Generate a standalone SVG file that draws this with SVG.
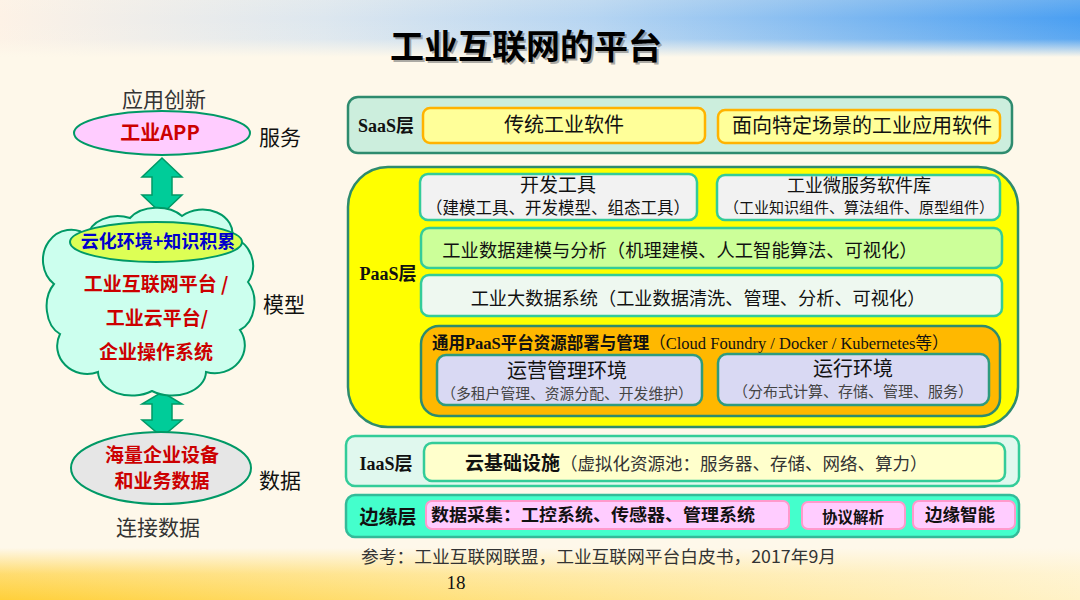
<svg xmlns="http://www.w3.org/2000/svg" width="1080" height="600" viewBox="0 0 1080 600">
<defs>
<linearGradient id="topH" x1="0" y1="0" x2="1" y2="0">
<stop offset="0" stop-color="#FDF2E6"/>
<stop offset="0.3" stop-color="#DDE7EF"/>
<stop offset="0.55" stop-color="#B6D5F2"/>
<stop offset="0.8" stop-color="#79B6F1"/>
<stop offset="1" stop-color="#4A9FF2"/>
</linearGradient>
<linearGradient id="topV" x1="0" y1="0" x2="0" y2="1">
<stop offset="0" stop-color="#FEF8EA" stop-opacity="0.15"/>
<stop offset="0.3" stop-color="#FEF8EA" stop-opacity="0"/>
<stop offset="0.65" stop-color="#FEF8EA" stop-opacity="0.1"/>
<stop offset="0.95" stop-color="#FEF8EA" stop-opacity="1"/>
</linearGradient>
<linearGradient id="botH" x1="0" y1="0" x2="1" y2="0">
<stop offset="0" stop-color="#FFD03A"/>
<stop offset="0.4" stop-color="#FFE07A"/>
<stop offset="1" stop-color="#FFF2C8"/>
</linearGradient>
<linearGradient id="botV" x1="0" y1="0" x2="0" y2="1">
<stop offset="0" stop-color="#FEF8EA" stop-opacity="1"/>
<stop offset="0.5" stop-color="#FEF8EA" stop-opacity="0.3"/>
<stop offset="1" stop-color="#FEF8EA" stop-opacity="0"/>
</linearGradient>
</defs>
<style>
.cjk{font-family:"Noto Sans CJK SC","Noto Sans",sans-serif;}
.ser{font-family:"Liberation Serif","Noto Sans CJK SC",serif;}
.b{font-weight:bold;}
.mid{text-anchor:middle;}
.red{fill:#CC0000;}
.ink{fill:#111111;}
.grey{fill:#333333;}
.sub{fill:#444444;}
.arrow{fill:#00CC99;stroke:#009966;stroke-width:1.5;}
.teal{stroke:#009966;stroke-width:2;}
.panel{stroke:#2E8B6E;stroke-width:2.5;}
.inbox{stroke:#33CC99;stroke-width:2.5;}
</style>

<!-- background -->
<rect x="0" y="0" width="1080" height="600" fill="#FEF8EA"/>
<rect x="0" y="0" width="1080" height="60" fill="url(#topH)"/>
<rect x="0" y="0" width="1080" height="60" fill="url(#topV)"/>
<rect x="0" y="548" width="1080" height="52" fill="url(#botH)"/>
<rect x="0" y="548" width="1080" height="52" fill="url(#botV)"/>

<!-- title -->
<text x="526" y="59" class="cjk b mid" font-size="34" fill="#777" opacity="0.6" transform="translate(2,2)">工业互联网的平台</text>
<text x="526" y="59" class="cjk b mid" font-size="34" fill="#000">工业互联网的平台</text>

<!-- connectors -->
<g id="connectors">
<path class="arrow" d="M162 158 L182 177 L172 177 L172 195 L182 195 L162 214 L142 195 L152 195 L152 177 L142 177 Z"/>
<path class="arrow" d="M162 392 L182 404 L172 404 L172 420 L182 420 L162 437 L142 420 L152 420 L152 404 L142 404 Z"/>
</g>

<!-- left column -->
<g id="label-app-innovation"><text x="164" y="107" class="cjk mid grey" font-size="21">应用创新</text></g>
<g id="node-app">
<ellipse cx="162" cy="133" rx="88" ry="22" fill="#FFCCFF" class="teal"/>
<text x="160" y="140" class="cjk b mid red" font-size="20">工业APP</text>
</g>
<g id="label-service"><text x="280" y="145" class="cjk mid ink" font-size="21">服务</text></g>

<g id="node-cloud">
<path d="M88 236 A30 22 0 0 1 130 218 A32 22 0 0 1 182 216 A30 24 0 0 1 232 238 A26 28 0 0 1 248 282 A24 30 0 0 1 240 330 A30 28 0 0 1 206 372 A34 24 0 0 1 152 391 A34 24 0 0 1 98 372 A30 28 0 0 1 60 334 A22 30 0 0 1 54 284 A26 28 0 0 1 88 236 Z" fill="#CCFFEE" class="teal"/>
<ellipse cx="156" cy="242" rx="86" ry="20" fill="#DDFF55" class="teal"/>
<text x="158" y="248" class="cjk b mid" font-size="18" fill="#0000CC">云化环境+知识积累</text>
<text x="156" y="291" class="cjk b mid red" font-size="19">工业互联网平台 /</text>
<text x="157" y="325" class="cjk b mid red" font-size="19">工业云平台/</text>
<text x="156" y="359" class="cjk b mid red" font-size="19">企业操作系统</text>
</g>
<g id="label-model"><text x="284" y="312" class="cjk mid ink" font-size="21">模型</text></g>

<g id="node-data">
<ellipse cx="161" cy="468" rx="90" ry="36" fill="#E6E6E6" class="teal"/>
<text x="162" y="462" class="cjk b mid red" font-size="19">海量企业设备</text>
<text x="162" y="488" class="cjk b mid red" font-size="19">和业务数据</text>
</g>
<g id="label-data"><text x="280" y="488" class="cjk mid ink" font-size="21">数据</text></g>
<g id="label-connect"><text x="158" y="535" class="cjk mid grey" font-size="21">连接数据</text></g>

<!-- SaaS -->
<g id="saas">
<rect x="348" y="97" width="664" height="56" rx="10" fill="#CCEEDD" class="panel"/>
<text x="386" y="132" class="ser b mid ink" font-size="18">SaaS层</text>
<rect x="423" y="108" width="282" height="35" rx="7" fill="#FFFF99" stroke="#FFB300" stroke-width="2.5"/>
<text x="564" y="132" class="cjk mid ink" font-size="20">传统工业软件</text>
<rect x="718" y="110" width="282" height="33" rx="7" fill="#FFFF99" stroke="#FFB300" stroke-width="2.5"/>
<text x="862" y="133" class="cjk mid ink" font-size="20">面向特定场景的工业应用软件</text>
</g>

<!-- PaaS -->
<g id="paas">
<rect x="348" y="167" width="670" height="260" rx="40" fill="#FFFF00" class="panel"/>
<text x="388" y="280" class="ser b mid ink" font-size="18">PaaS层</text>
</g>
<g id="paas-devtools">
<rect x="420" y="174" width="277" height="46" rx="8" fill="#F2F2F2" class="inbox"/>
<text x="558" y="192" class="cjk mid ink" font-size="19">开发工具</text>
<text x="558" y="214" class="cjk mid ink" font-size="16.5">（建模工具、开发模型、组态工具）</text>
</g>
<g id="paas-microservice">
<rect x="717" y="175" width="283" height="45" rx="8" fill="#F2F2F2" class="inbox"/>
<text x="859" y="192" class="cjk mid ink" font-size="18">工业微服务软件库</text>
<text x="859" y="213" class="cjk mid ink" font-size="15">（工业知识组件、算法组件、原型组件）</text>
</g>
<g id="paas-modeling">
<rect x="421" y="228" width="581" height="40" rx="8" fill="#CCFF99" class="inbox"/>
<text x="680" y="257" class="cjk mid ink" font-size="18.3">工业数据建模与分析（机理建模、人工智能算法、可视化）</text>
</g>
<g id="paas-bigdata">
<rect x="421" y="275" width="581" height="41" rx="8" fill="#EEF8F0" class="inbox"/>
<text x="698" y="305" class="cjk mid ink" font-size="18.2">工业大数据系统（工业数据清洗、管理、分析、可视化）</text>
</g>
<g id="paas-general">
<rect x="421" y="326" width="579" height="90" rx="18" fill="#FFB800" class="panel"/>
<text x="432" y="349" class="ink" font-size="16.5"><tspan class="cjk b">通用</tspan><tspan class="ser b">PaaS</tspan><tspan class="cjk b">平台资源部署与管理</tspan><tspan class="ser">（Cloud Foundry / Docker / Kubernetes等）</tspan></text>
</g>
<g id="paas-ops">
<rect x="437" y="355" width="265" height="50" rx="9" fill="#D9D9F3" stroke="#2E9B7E" stroke-width="2.5"/>
<text x="567" y="378" class="cjk mid ink" font-size="20">运营管理环境</text>
<text x="567" y="399" class="cjk mid sub" font-size="14.8">（多租户管理、资源分配、开发维护）</text>
</g>
<g id="paas-runtime">
<rect x="718" y="354" width="271" height="51" rx="9" fill="#D9D9F3" stroke="#2E9B7E" stroke-width="2.5"/>
<text x="853" y="376" class="cjk mid ink" font-size="20">运行环境</text>
<text x="853" y="397" class="cjk mid sub" font-size="15">（分布式计算、存储、管理、服务）</text>
</g>

<!-- IaaS -->
<g id="iaas">
<rect x="346" y="436" width="673" height="50" rx="9" fill="#E0F8EE" class="inbox"/>
<text x="386" y="470" class="ser b mid ink" font-size="18">IaaS层</text>
<rect x="424" y="443" width="581" height="38" rx="8" fill="#FFFFCC" class="inbox"/>
<text x="465" y="470" class="ink" font-size="19"><tspan class="cjk b">云基础设施</tspan><tspan class="cjk grey" font-size="17.5">（虚拟化资源池：服务器、存储、网络、算力）</tspan></text>
</g>

<!-- Edge -->
<g id="edge">
<rect x="346" y="495" width="673" height="42" rx="9" fill="#44FFCC" stroke="#33BB99" stroke-width="2.5"/>
<text x="388" y="524" class="cjk b mid ink" font-size="19">边缘层</text>
</g>
<g id="edge-collect">
<rect x="426" y="501" width="363" height="28" rx="6" fill="#FFCCFF" stroke="#FF99CC" stroke-width="2"/>
<text x="431" y="521" class="cjk b ink" font-size="17" textLength="324" lengthAdjust="spacingAndGlyphs">数据采集：工控系统、传感器、管理系统</text>
</g>
<g id="edge-protocol">
<rect x="802" y="502" width="103" height="27" rx="6" fill="#FFCCFF" stroke="#FF99CC" stroke-width="2"/>
<text x="853" y="523" class="cjk b mid ink" font-size="15.5">协议解析</text>
</g>
<g id="edge-intel">
<rect x="913" y="501" width="102" height="28" rx="6" fill="#FFCCFF" stroke="#FF99CC" stroke-width="2"/>
<text x="960" y="521" class="cjk b mid ink" font-size="17.5">边缘智能</text>
</g>

<!-- footer -->
<text x="361" y="563" class="cjk grey" font-size="17" textLength="475" lengthAdjust="spacingAndGlyphs">参考：工业互联网联盟，工业互联网平台白皮书，2017年9月</text>
<text x="456" y="589" class="ser mid ink" font-size="19">18</text>
</svg>
